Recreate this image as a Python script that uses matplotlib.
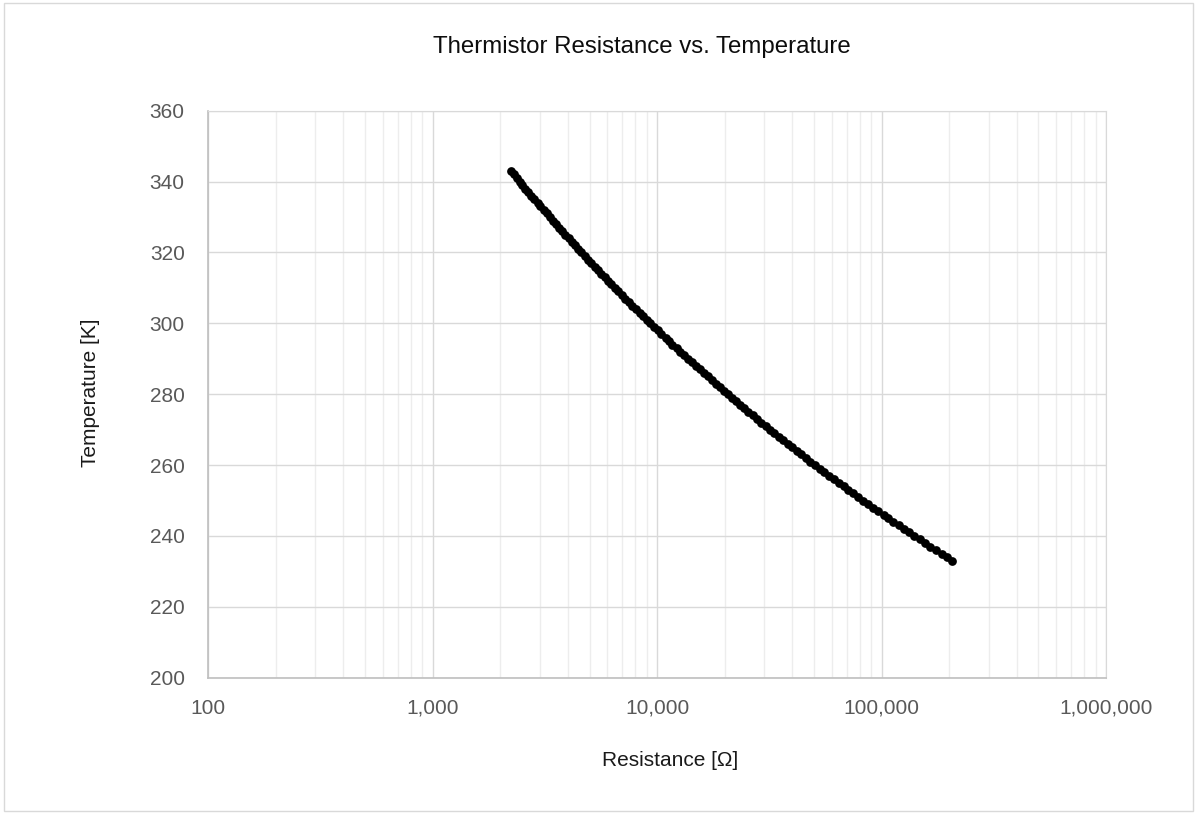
import numpy as np
import matplotlib
matplotlib.use("Agg")
import matplotlib.pyplot as plt
from matplotlib.ticker import FuncFormatter, LogLocator, NullFormatter, MultipleLocator
from matplotlib.patches import Rectangle

# Temperature [K] and measured thermistor resistance [ohm]
temperature_k = [
    233, 234, 235, 236, 237, 238, 239, 240, 241, 242, 243, 244, 245, 246, 247, 248,
    249, 250, 251, 252, 253, 254, 255, 256, 257, 258, 259, 260, 261, 262, 263, 264,
    265, 266, 267, 268, 269, 270, 271, 272, 273, 274, 275, 276, 277, 278, 279, 280,
    281, 282, 283, 284, 285, 286, 287, 288, 289, 290, 291, 292, 293, 294, 295, 296,
    297, 298, 299, 300, 301, 302, 303, 304, 305, 306, 307, 308, 309, 310, 311, 312,
    313, 314, 315, 316, 317, 318, 319, 320, 321, 322, 323, 324, 325, 326, 327, 328,
    329, 330, 331, 332, 333, 334, 335, 336, 337, 338, 339, 340, 341, 342, 343,
]
resistance_ohm = [
    207000, 195000, 185000, 175000, 165000, 156000, 148000, 140000, 133000, 126000,
    119000, 113000, 107000, 102000, 96500, 91700, 87100, 82700, 78600, 74800,
    71100, 67700, 64400, 61300, 58400, 55600, 53000, 50600, 48200, 46000,
    43900, 41900, 40000, 38200, 36500, 34900, 33300, 31800, 30500, 29100,
    27900, 26700, 25500, 24500, 23400, 22500, 21500, 20600, 19800, 19000,
    18200, 17500, 16800, 16100, 15500, 14900, 14300, 13700, 13200, 12700,
    12200, 11700, 11300, 10900, 10400, 10100, 9690, 9330, 8990, 8660,
    8350, 8050, 7760, 7480, 7220, 6960, 6720, 6490, 6260, 6050,
    5840, 5640, 5450, 5260, 5090, 4920, 4760, 4600, 4450, 4300,
    4160, 4030, 3900, 3780, 3660, 3540, 3430, 3320, 3220, 3120,
    3020, 2930, 2840, 2750, 2670, 2590, 2510, 2440, 2370, 2300, 2230,
]
y_ticks = [200, 220, 240, 260, 280, 300, 320, 340, 360]

W, H = 1198, 815
plt.rcParams['font.family'] = ['Liberation Sans', 'DejaVu Sans']
fig = plt.figure(figsize=(W / 100, H / 100), dpi=100)

# chart-area border
fig.patches.append(Rectangle((4 / W, 1 - 811 / H), 1189 / W, 808 / H, transform=fig.transFigure,
                             fill=False, edgecolor='#d9d9d9', lw=1.0))

ax = fig.add_axes([208.3 / W, 1 - 677.7 / H, (1106 - 208.3) / W, (677.7 - 110.7) / H])
ax.set_xscale('log')
ax.set_xlim(100, 1e6)
ax.set_ylim(200, 360)
ax.plot(resistance_ohm, temperature_k, 'o', color='black', ms=6.3, mew=0, zorder=3)

ax.set_yticks(y_ticks)
ax.xaxis.set_major_locator(LogLocator(base=10, numticks=10))
ax.xaxis.set_minor_locator(LogLocator(base=10, subs=np.arange(2, 10), numticks=100))
ax.xaxis.set_minor_formatter(NullFormatter())
ax.xaxis.set_major_formatter(FuncFormatter(lambda v, _: f"{v:,.0f}"))

ax.grid(True, which='major', color='#d9d9d9', lw=1.0)
ax.grid(True, which='minor', axis='x', color='#ededed', lw=1.0)
ax.set_axisbelow(True)
for s in ['top', 'right']:
    ax.spines[s].set_color('#d9d9d9')
for s in ['left', 'bottom']:
    ax.spines[s].set_color('#bfbfbf')
    ax.spines[s].set_linewidth(1.2)
ax.tick_params(which='both', length=0, labelsize=15, labelcolor='#595959')
ax.tick_params(axis='x', pad=15)
ax.tick_params(axis='y', pad=17)

fig.text(641.5 / W, 1 - 47 / H, 'Thermistor Resistance vs. Temperature', ha='center', va='center',
         fontsize=17.3, color='#0d0d0d')
fig.text(670 / W, 1 - 760 / H, 'Resistance [Ω]', ha='center', va='center', fontsize=15, color='#1a1a1a')
fig.text(90 / W, 1 - 393 / H, 'Temperature [K]', ha='center', va='center', rotation=90,
         fontsize=15, color='#1a1a1a')

fig.savefig('out.png', dpi=100)
